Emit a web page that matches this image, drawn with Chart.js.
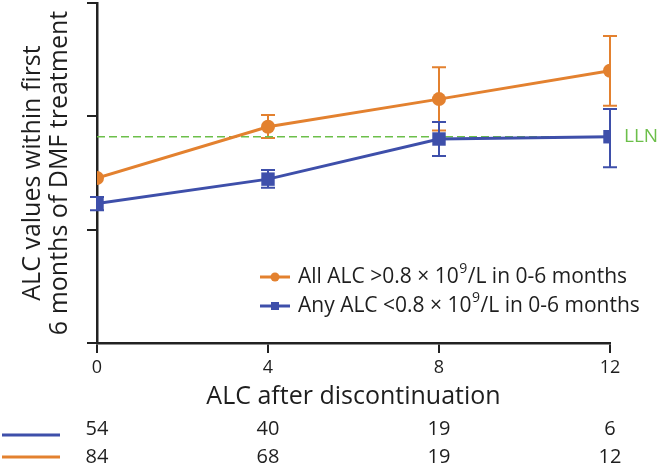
<!DOCTYPE html>
<html>
<head>
<meta charset="utf-8">
<script src="https://cdn.jsdelivr.net/npm/chart.js@4.4.0/dist/chart.umd.min.js"></script>
<style>
  html, body { margin: 0; padding: 0; background: #ffffff; }
  #wrap { position: relative; width: 658px; height: 466px; }
</style>
</head>
<body>
<div id="wrap"><canvas id="c" width="658" height="466"></canvas></div>
<script>
// ---- data ----
const months = [0, 4, 8, 12];
const xTickLabels = ['0', '4', '8', '12'];
const allAboveMean = [0.728, 0.954, 1.076, 1.201];
const allAboveLow  = [0.728, 0.904, 0.937, 1.047];
const allAboveHigh = [0.728, 1.006, 1.216, 1.354];
const anyBelowMean = [0.615, 0.723, 0.900, 0.910];
const anyBelowLow  = [0.586, 0.685, 0.825, 0.775];
const anyBelowHigh = [0.644, 0.763, 0.975, 1.032];
const llnValue = 0.91;
const llnLabel = 'LLN';
const nAnyBelow = [54, 40, 19, 6];
const nAllAbove = [84, 68, 19, 12];
const legendAll = ['All ALC >0.8 × 10', '9', '/L in 0-6 months'];
const legendAny = ['Any ALC <0.8 × 10', '9', '/L in 0-6 months'];
const yTitle = ['ALC values within first', '6 months of DMF treatment'];
const xTitle = 'ALC after discontinuation';

const ORANGE = '#E3812F';
const BLUE = '#3E4FAA';
const GREEN = '#6CBF4A';
const INK = '#1e1e1e';
const FONT = '"Open Sans", "Noto Sans", sans-serif';

const pts = (xs, ys) => xs.map((x, i) => ({x: x, y: ys[i]}));

const errorBars = {
  id: 'errorBars',
  beforeDatasetsDraw(chart) {
    const {ctx, scales: {x, y}} = chart;
    const sets = [
      {lo: allAboveLow, hi: allAboveHigh, color: ORANGE, cap: 7},
      {lo: anyBelowLow, hi: anyBelowHigh, color: BLUE, cap: 7}
    ];
    ctx.save();
    ctx.lineWidth = 2;
    sets.forEach(s => {
      ctx.strokeStyle = s.color;
      months.forEach((m, i) => {
        if (s.lo[i] === s.hi[i]) return;
        const px = x.getPixelForValue(m);
        const y1 = y.getPixelForValue(s.lo[i]);
        const y2 = y.getPixelForValue(s.hi[i]);
        ctx.beginPath();
        ctx.moveTo(px, y1); ctx.lineTo(px, y2);
        ctx.moveTo(px - s.cap, y1); ctx.lineTo(px + s.cap, y1);
        ctx.moveTo(px - s.cap, y2); ctx.lineTo(px + s.cap, y2);
        ctx.stroke();
      });
    });
    ctx.restore();
  },
  afterDraw(chart) {
    const {ctx, scales: {x, y}, chartArea} = chart;
    ctx.save();
    // LLN label
    ctx.fillStyle = GREEN;
    ctx.font = '19px ' + FONT;
    ctx.textBaseline = 'middle';
    ctx.textAlign = 'left';
    ctx.fillText(llnLabel, chartArea.right + 14, y.getPixelForValue(llnValue));

    // legend
    const rows = [
      {y: 277, color: ORANGE, style: 'circle', text: legendAll},
      {y: 306, color: BLUE, style: 'rect', text: legendAny}
    ];
    rows.forEach(r => {
      ctx.strokeStyle = r.color; ctx.fillStyle = r.color; ctx.lineWidth = 3;
      ctx.beginPath(); ctx.moveTo(260, r.y); ctx.lineTo(290, r.y); ctx.stroke();
      if (r.style === 'circle') {
        ctx.beginPath(); ctx.arc(275, r.y, 4.5, 0, Math.PI * 2); ctx.fill();
      } else {
        ctx.fillRect(271, r.y - 4, 8, 8);
      }
      let tx = 298;
      ctx.fillStyle = INK;
      ctx.textAlign = 'left';
      ctx.textBaseline = 'middle';
      ctx.font = '21px ' + FONT;
      ctx.fillText(r.text[0], tx, r.y);
      tx += ctx.measureText(r.text[0]).width + 0.5;
      ctx.font = '14px ' + FONT;
      ctx.fillText(r.text[1], tx, r.y - 8);
      tx += ctx.measureText(r.text[1]).width + 0.5;
      ctx.font = '21px ' + FONT;
      ctx.fillText(r.text[2], tx, r.y);
    });

    // number table
    const tableRows = [
      {y: 429, lineY: 435, color: BLUE, vals: nAnyBelow},
      {y: 457, lineY: 457, color: ORANGE, vals: nAllAbove}
    ];
    tableRows.forEach(r => {
      ctx.strokeStyle = r.color; ctx.lineWidth = 3;
      ctx.beginPath(); ctx.moveTo(2, r.lineY); ctx.lineTo(60, r.lineY); ctx.stroke();
      ctx.fillStyle = INK;
      ctx.font = '20px ' + FONT;
      ctx.textAlign = 'center';
      ctx.textBaseline = 'middle';
      months.forEach((m, i) => {
        ctx.fillText(String(r.vals[i]), x.getPixelForValue(m), r.y);
      });
    });
    ctx.restore();
  }
};

new Chart(document.getElementById('c'), {
  type: 'line',
  data: {
    datasets: [
      {
        label: 'LLN',
        data: pts([months[0], months[months.length - 1]], [llnValue, llnValue]),
        borderColor: GREEN, borderWidth: 1.5, borderDash: [8, 4],
        pointRadius: 0, order: 3
      },
      {
        label: 'All ALC >0.8 × 10⁹/L in 0-6 months',
        data: pts(months, allAboveMean),
        borderColor: ORANGE, backgroundColor: ORANGE, borderWidth: 3,
        pointStyle: 'circle', pointRadius: 7, pointBorderWidth: 0,
        order: 2
      },
      {
        label: 'Any ALC <0.8 × 10⁹/L in 0-6 months',
        data: pts(months, anyBelowMean),
        borderColor: BLUE, backgroundColor: BLUE, borderWidth: 3,
        pointStyle: 'rect', pointRadius: 9.5, pointBorderWidth: 0,
        order: 1
      }
    ]
  },
  options: {
    responsive: false,
    animation: false,
    layout: { autoPadding: false, padding: { left: 0, right: 48, top: 3, bottom: 0 } },
    plugins: { legend: { display: false }, tooltip: { enabled: false } },
    scales: {
      x: {
        type: 'linear', min: 0, max: 12,
        afterBuildTicks: (s) => { s.ticks = months.map(v => ({value: v})); },
        ticks: {
          color: INK, font: { family: FONT, size: 18 }, padding: 4,
          callback: (v) => xTickLabels[months.indexOf(v)]
        },
        grid: { display: true, drawOnChartArea: false, drawTicks: true, tickLength: 10, color: '#222', lineWidth: 2 },
        border: { display: true, color: '#222', width: 2.5 },
        title: {
          display: true, text: xTitle, color: INK,
          font: { family: FONT, size: 25 }, padding: { top: 0, bottom: 54 }
        },
        afterFit: (s) => { s.height = 123; }
      },
      y: {
        type: 'linear', min: 0, max: 1.5,
        ticks: { display: false, stepSize: 0.5 },
        grid: { display: true, drawOnChartArea: false, drawTicks: true, tickLength: 10, color: '#222', lineWidth: 2 },
        border: { display: true, color: '#222', width: 2.5 },
        title: {
          display: true, text: yTitle, color: INK,
          font: { family: FONT, size: 25, lineHeight: 1.08 }, padding: { top: 19, bottom: 0 }
        },
        afterFit: (s) => { s.width = 97; }
      }
    }
  },
  plugins: [errorBars]
});
</script>
</body>
</html>
